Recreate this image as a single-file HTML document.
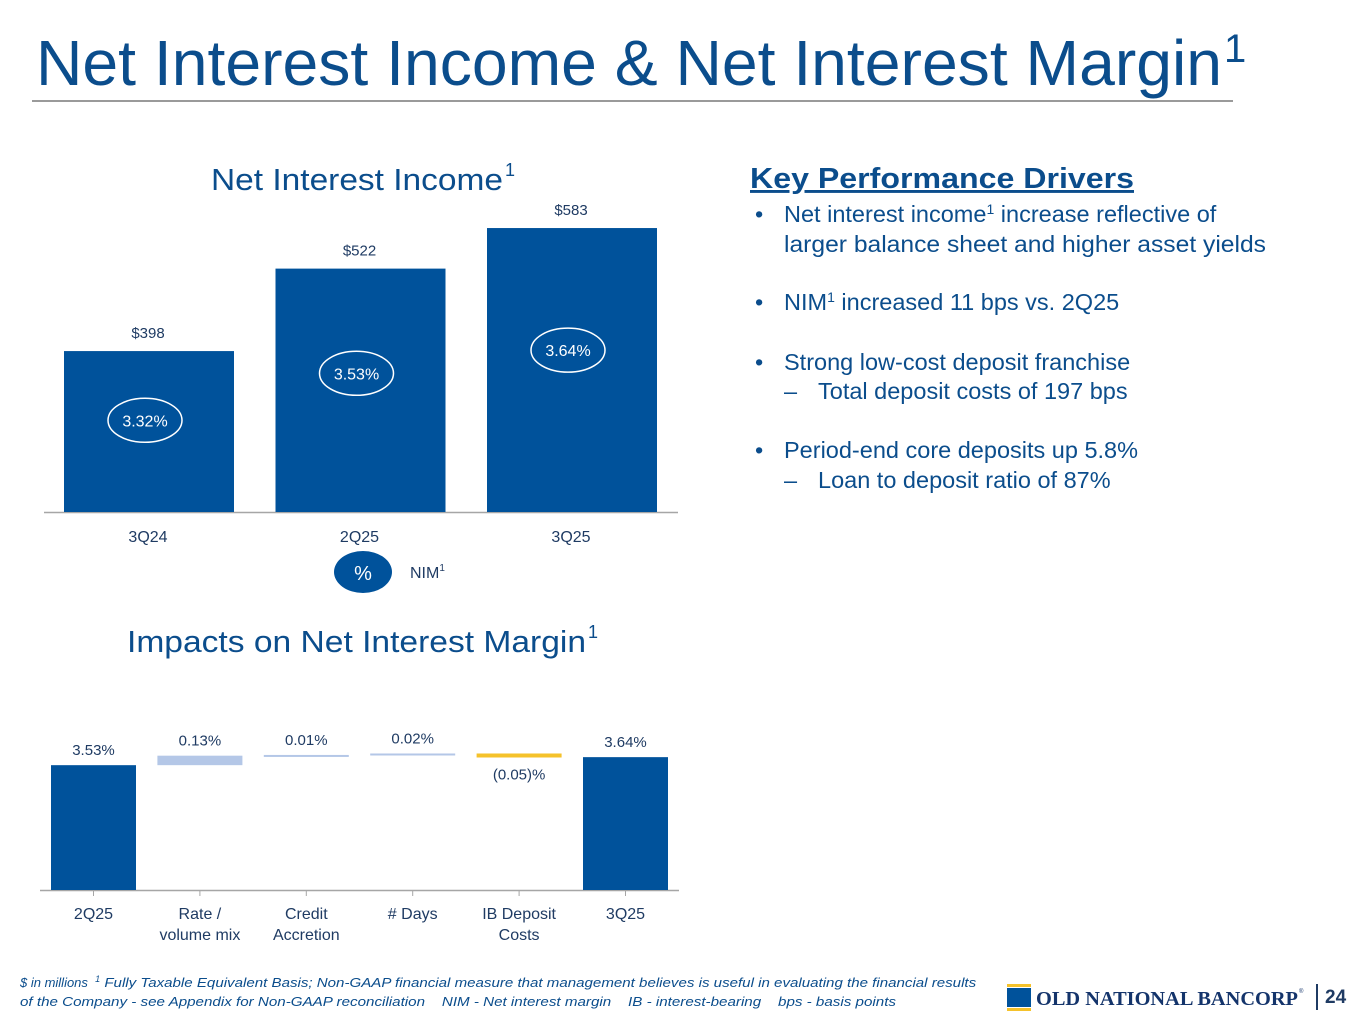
<!DOCTYPE html>
<html><head><meta charset="utf-8"><style>
html,body{margin:0;padding:0;background:#fff;}
svg{display:block;font-family:"Liberation Sans",Arial,sans-serif;}
text{white-space:pre;}
</style></head><body>
<svg width="1365" height="1024" viewBox="0 0 1365 1024" xmlns="http://www.w3.org/2000/svg">
<text x="36" y="85" font-size="64" fill="#0b4d8c" textLength="1186" lengthAdjust="spacingAndGlyphs">Net Interest Income &amp; Net Interest Margin</text>
<text x="1224" y="62" font-size="40" fill="#0b4d8c">1</text>
<rect x="32" y="100" width="1201" height="2" fill="#9a9a9a"/>

<text x="211" y="190" font-size="31" fill="#0b4d8c" textLength="292" lengthAdjust="spacingAndGlyphs">Net Interest Income</text>
<text x="505" y="176" font-size="18" fill="#0b4d8c">1</text>
<g id="nii"></g>
<ellipse cx="363" cy="572" rx="29" ry="21" fill="#00529b"/>
<text x="363" y="580" font-size="20" fill="#fff" text-anchor="middle">%</text>
<text x="410" y="578" font-size="16" fill="#1f3b63">NIM<tspan font-size="10" dy="-7">1</tspan></text>

<text x="127" y="652" font-size="31" fill="#0b4d8c" textLength="459" lengthAdjust="spacingAndGlyphs">Impacts on Net Interest Margin</text>
<text x="588" y="638" font-size="18" fill="#0b4d8c">1</text>
<g id="wf"></g>

<g fill="#0b4d8c" font-size="23.5">
<text x="750" y="188" font-size="29" font-weight="bold" textLength="384" lengthAdjust="spacingAndGlyphs" text-decoration="underline">Key Performance Drivers</text>
<text x="755" y="222">•</text>
<text x="784" y="222">Net interest income<tspan font-size="14" dy="-8">1</tspan><tspan dy="8"> increase reflective of</tspan></text>
<text x="784" y="252" textLength="482" lengthAdjust="spacingAndGlyphs">larger balance sheet and higher asset yields</text>
<text x="755" y="310">•</text>
<text x="784" y="310">NIM<tspan font-size="14" dy="-8">1</tspan><tspan dy="8"> increased 11 bps vs. 2Q25</tspan></text>
<text x="755" y="370">•</text>
<text x="784" y="370">Strong low-cost deposit franchise</text>
<text x="784" y="399">–</text>
<text x="818" y="399">Total deposit costs of 197 bps</text>
<text x="755" y="458">•</text>
<text x="784" y="458">Period-end core deposits up 5.8%</text>
<text x="784" y="488">–</text>
<text x="818" y="488">Loan to deposit ratio of 87%</text>
</g>

<g fill="#0b4d8c" font-size="13" font-style="italic">
<text x="20" y="987">$ in millions  <tspan font-size="9" dy="-5">1</tspan><tspan dy="5" textLength="876" lengthAdjust="spacingAndGlyphs"> Fully Taxable Equivalent Basis; Non-GAAP financial measure that management believes is useful in evaluating the financial results</tspan></text>
<text x="20" y="1006" textLength="876" lengthAdjust="spacingAndGlyphs">of the Company - see Appendix for Non-GAAP reconciliation    NIM - Net interest margin    IB - interest-bearing    bps - basis points</text>
</g>
<g>
<rect x="1007" y="984" width="24" height="3" fill="#f5c22b"/>
<rect x="1007" y="988" width="24" height="19" fill="#00529b"/>
<rect x="1007" y="1008" width="24" height="3" fill="#f5c22b"/>
<text x="1036" y="1005" font-family="Liberation Serif,serif" font-weight="bold" font-size="20" fill="#14346b" textLength="262" lengthAdjust="spacingAndGlyphs">OLD NATIONAL BANCORP</text>
<text x="1299" y="993" font-size="6" fill="#14346b">®</text>
</g>
<rect x="1316" y="984" width="2" height="26" fill="#1f3b63"/>
<text x="1325" y="1003" font-size="19" font-weight="bold" fill="#1f3b63">24</text>

<script>
const niiCategories = ["3Q24","2Q25","3Q25"];
const niiValues = [398,522,583];
const niiLabels = ["$398","$522","$583"];
const nimValues = ["3.32%","3.53%","3.64%"];

const wfCategories = [["2Q25"],["Rate /","volume mix"],["Credit","Accretion"],["# Days"],["IB Deposit","Costs"],["3Q25"]];
const wfValues = [3.53,0.13,0.01,0.02,-0.05,3.64];
const wfTypes = ["total","delta","delta","delta","delta","total"];
const wfLabels = ["3.53%","0.13%","0.01%","0.02%","(0.05)%","3.64%"];

const NS="http://www.w3.org/2000/svg";
function mk(parent,tag,attrs,text){const e=document.createElementNS(NS,tag);for(const k in attrs)e.setAttribute(k,attrs[k]);if(text!==undefined)e.textContent=text;parent.appendChild(e);return e;}

(function(){
  const g=document.getElementById('nii');
  const base=512, k=0.665, min=156;
  const y=v=>base-(v-min)*k;
  const x0=64, step=211.5, bw=170;
  const ax=mk(g,'line',{x1:44,y1:base+0.5,x2:678,y2:base+0.5,stroke:'#a6a6a6','stroke-width':1.5});
  
  
  niiValues.forEach((v,i)=>{
    const x=x0+i*step, top=y(v);
    const r=mk(g,'rect',{x:x,y:top,width:bw,height:base-top,fill:'#00529b'});
    
    
    const t=mk(g,'text',{x:x+bw/2-1,y:top-13,'font-size':15,fill:'#1f3b63','text-anchor':'middle'},niiLabels[i]);
    
    
    const c=mk(g,'text',{x:x+bw/2-1,y:base+30,'font-size':16,fill:'#1f3b63','text-anchor':'middle'},niiCategories[i]);
    
    
    const cy=top+(base-top)*0.43;
    const e=mk(g,'ellipse',{cx:x+bw/2-4,cy:cy,rx:37,ry:22,fill:'none',stroke:'#fff','stroke-width':1.5});
    
    
    const n=mk(g,'text',{x:x+bw/2-4,y:cy+6,'font-size':16,fill:'#fff','text-anchor':'middle'},nimValues[i]);
    
    
  });
})();

(function(){
  const g=document.getElementById('wf');
  const base=890, k=73, min=1.82;
  const y=v=>base-(v-min)*k;
  const x0=51, step=106.4, bw=85;
  const ax=mk(g,'line',{x1:40,y1:base+0.5,x2:679,y2:base+0.5,stroke:'#a6a6a6','stroke-width':1.5});
  
  
  let run=0;
  wfValues.forEach((v,i)=>{
    const x=x0+i*step, cx=x+bw/2;
    let top,bot,fill;
    if(wfTypes[i]==='total'){run=v;top=y(v);bot=base;fill='#00529b';}
    else{const a=run,b=run+v;run=b;top=y(Math.max(a,b));bot=y(Math.min(a,b));fill=v<0?'#f5c22b':'#b4c7e7';}
    let h=bot-top; if(h<2)h=2;
    if(v<0&&h<4)h=4;
    const r=mk(g,'rect',{x:x,y:top,width:bw,height:h,fill:fill});
    
    
    const ly=v<0?top+h+22:top-10;
    const t=mk(g,'text',{x:cx,y:ly,'font-size':15,fill:'#1f3b63','text-anchor':'middle'},wfLabels[i]);
    
    
    const tk=mk(g,'line',{x1:cx,y1:base,x2:cx,y2:base+6,stroke:'#a6a6a6','stroke-width':1});
    
    
    wfCategories[i].forEach((s,j)=>{
      const c=mk(g,'text',{x:cx,y:base+29+j*21,'font-size':16,fill:'#1f3b63','text-anchor':'middle'},s);
      
      
    });
  });
})();
</script>
</svg>
</body></html>
